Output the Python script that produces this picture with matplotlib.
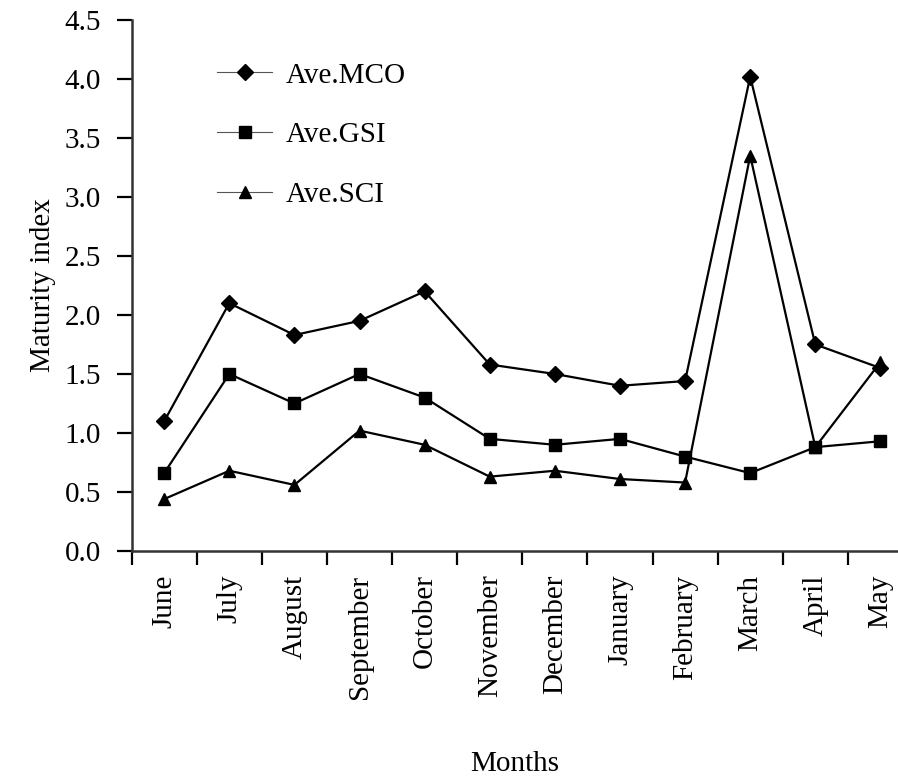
import numpy as np
import matplotlib
matplotlib.use("Agg")
import matplotlib.pyplot as plt

# Monthly averages
months = ['June', 'July', 'August', 'September', 'October', 'November',
          'December', 'January', 'February', 'March', 'April', 'May']
ave_mco = [1.10, 2.10, 1.83, 1.95, 2.20, 1.58, 1.50, 1.40, 1.44, 4.02, 1.75, 1.55]
ave_gsi = [0.66, 1.50, 1.25, 1.50, 1.30, 0.95, 0.90, 0.95, 0.80, 0.66, 0.88, 0.93]
ave_sci = [0.44, 0.68, 0.56, 1.02, 0.90, 0.63, 0.68, 0.61, 0.58, 3.35, 0.88, 1.60]

plt.rcParams['font.family'] = ['Liberation Serif', 'DejaVu Serif']
plt.rcParams['font.size'] = 21

fig = plt.figure(figsize=(8.98, 7.81), dpi=100)
ax = fig.add_axes([0.1466, 0.2945, 0.8534, 0.6800])

x = np.arange(len(months))
ax.plot(x, ave_mco, marker='D', markersize=8, color='black', lw=1.6,
        clip_on=False, label='Ave.MCO')
ax.plot(x, ave_gsi, marker='s', markersize=8.5, color='black', lw=1.6,
        clip_on=False, label='Ave.GSI')
ax.plot(x, ave_sci, marker='^', markersize=8.5, color='black', lw=1.6,
        clip_on=False, label='Ave.SCI')

ax.set_ylim(0, 4.5)
yt = np.arange(0, 4.51, 0.5)
ax.set_yticks(yt)
ax.set_yticklabels([f'{v:.1f}' for v in yt])
ax.set_xlim(-0.5, 11.27)

ax.set_xticks(x)
ax.set_xticklabels(months, rotation=90)
ax.set_xticks(np.arange(-0.5, 11.0, 1.0), minor=True)
ax.tick_params(axis='x', which='major', length=0, pad=17)
ax.tick_params(axis='x', which='minor', length=10, width=1.6, direction='out')
ax.tick_params(axis='y', length=11, width=1.6, direction='out', pad=11)

for side in ('top', 'right'):
    ax.spines[side].set_visible(False)
for side in ('left', 'bottom'):
    ax.spines[side].set_linewidth(1.8)
    ax.spines[side].set_color('#333333')

ax.set_ylabel('Maturity index', labelpad=6)
ax.set_xlabel('Months', labelpad=38)

leg = ax.legend(loc='upper left', bbox_to_anchor=(0.077, 0.97), frameon=False,
                handlelength=1.9, labelspacing=1.15, handletextpad=0.45,
                fontsize=21)
for h in leg.get_lines():
    h.set_linewidth(0.8)
    h.set_color('#555555')
    h.set_markerfacecolor('black')
    h.set_markeredgecolor('black')

fig.savefig('out.png', dpi=100)
